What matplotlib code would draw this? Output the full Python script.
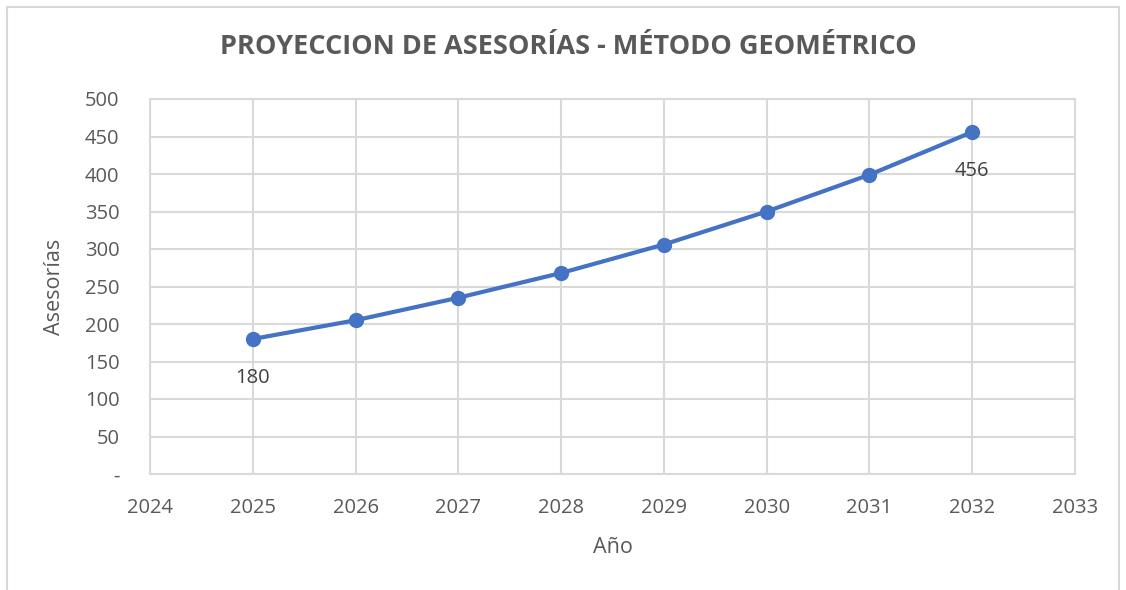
import numpy as np
import matplotlib.pyplot as plt
from matplotlib.lines import Line2D

plt.rcParams['font.family'] = ['Open Sans', 'DejaVu Sans']

# data
years = [2025, 2026, 2027, 2028, 2029, 2030, 2031, 2032]
asesorias = [180, 205, 235, 268, 306, 350, 399, 456]
labeled = {2025: '180', 2032: '456'}

fig = plt.figure(figsize=(11.26, 5.90), dpi=100)
ax = fig.add_axes([150/1126, 1-474/590, (1075-150)/1126, (474-99)/590])

# outer frame of the chart
for xs, ys in [([7, 7], [0, 583]), ([7, 1119], [583, 583]), ([1119, 1119], [0, 583])]:
    fig.add_artist(Line2D(np.array(xs)/1126, np.array(ys)/590, color='#D9D9D9', lw=1.5))

ax.plot(years, asesorias, color='#4472C4', lw=3, marker='o', ms=10, zorder=3)

for x, y in zip(years, asesorias):
    if x in labeled:
        ax.annotate(labeled[x], (x, y), xytext=(0, -28), textcoords='offset points',
                    ha='center', va='center', fontsize=14.5, color='#404040')

ax.set_xlim(2024, 2033)
ax.set_ylim(0, 500)
ax.set_xticks(range(2024, 2034))
ax.set_yticks(range(0, 501, 50))
ax.set_yticklabels(['-'] + [str(v) for v in range(50, 501, 50)])
ax.grid(True, color='#D9D9D9', lw=1.5)
ax.set_axisbelow(True)
for s in ax.spines.values():
    s.set_color('#D9D9D9')
    s.set_linewidth(1.5)
ax.tick_params(length=0, labelsize=14.5, labelcolor='#595959')
ax.tick_params(axis='x', pad=17)
ax.tick_params(axis='y', pad=22)

ax.set_xlabel('Año', fontsize=15.5, color='#595959', labelpad=14)
ax.set_ylabel('Asesorías', fontsize=15.5, color='#595959', labelpad=14)
fig.text(568/1126, 1-47/590, 'PROYECCION DE ASESORÍAS - MÉTODO GEOMÉTRICO',
         ha='center', va='center', fontsize=19.5, fontweight='bold', color='#595959')

plt.savefig('out.png', dpi=100)
